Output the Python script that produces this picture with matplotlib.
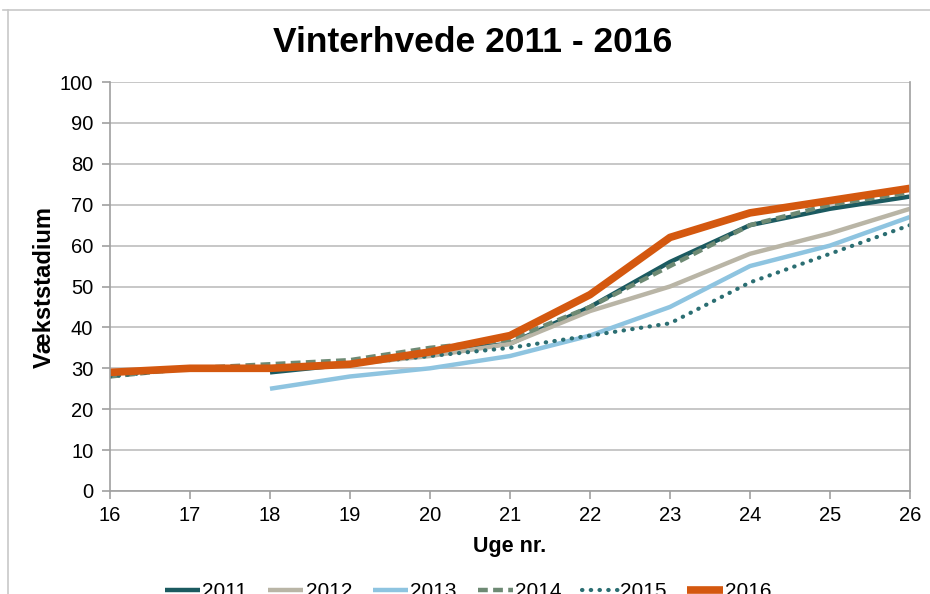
import numpy as np
import matplotlib.pyplot as plt
from matplotlib.lines import Line2D

#Data
weeks = [16, 17, 18, 19, 20, 21, 22, 23, 24, 25, 26]
late_weeks = [18, 19, 20, 21, 22, 23, 24, 25, 26]

y2011 = [29, 31, 34, 36, 45, 56, 65, 69, 72]
y2012 = [30, 31, 33, 36, 44, 50, 58, 63, 69]
y2013 = [25, 28, 30, 33, 38, 45, 55, 60, 67]
y2014 = [28, 30, 31, 32, 35, 37, 45, 55, 65, 70, 73]
y2015 = [28, 30, 30, 31, 33, 35, 38, 41, 51, 58, 65]
y2016 = [29, 30, 30, 31, 34, 38, 48, 62, 68, 71, 74]

labels = ["2011", "2012", "2013", "2014", "2015", "2016"]

plt.rcParams['font.family'] = ['Liberation Sans', 'DejaVu Sans']

fig = plt.figure(figsize=(9.3, 5.94), dpi=100)
ax = fig.add_axes([110/930, 1 - 491/594, 800/930, (491 - 82)/594])

#Outer frame (only top and left visible in the reference)
fig.add_artist(Line2D([3/930, 1], [1 - 10/594, 1 - 10/594], color="#c8c8c8", lw=1.2))
fig.add_artist(Line2D([8/930, 8/930], [0, 1 - 10/594], color="#c8c8c8", lw=1.2))

c2011 = "#1b5a60"
c2012 = "#b9b5a6"
c2013 = "#8ec4e0"
c2014 = "#6e8a74"
c2015 = "#2b6e72"
c2016 = "#d4580f"

ax.plot(late_weeks, y2011, color=c2011, lw=3.2, label=labels[0], solid_capstyle="butt")
ax.plot(late_weeks, y2012, color=c2012, lw=3.2, label=labels[1], solid_capstyle="butt")
ax.plot(late_weeks, y2013, color=c2013, lw=3.2, label=labels[2], solid_capstyle="butt")
ax.plot(weeks, y2014, color=c2014, lw=3.2, ls=(0, (2.2, 1.2)), label=labels[3])
ax.plot(weeks, y2015, color=c2015, lw=3.0, ls=(0, (0.1, 2.0)), dash_capstyle="round", label=labels[4])
ax.plot(weeks, y2016, color=c2016, lw=5.5, label=labels[5], solid_capstyle="butt")

ax.set_xlim(16, 26)
ax.set_ylim(0, 100)
ax.set_xticks(np.arange(16, 27, 1))
ax.set_yticks(np.arange(0, 101, 10))
ax.yaxis.grid(True, color="#bdbdbd", lw=1.2)
ax.set_axisbelow(True)

for s in ["left", "bottom", "right"]:
    ax.spines[s].set_color("#a0a0a0")
    ax.spines[s].set_linewidth(1.2)
ax.spines["top"].set_visible(False)
ax.tick_params(axis="both", colors="#a0a0a0", labelcolor="black", labelsize=14.5,
               length=6, width=1.2, direction="out")
ax.tick_params(axis="x", pad=5)
ax.tick_params(axis="y", pad=6)

fig.suptitle("Vinterhvede 2011 - 2016", x=473/930, y=1 - 42/594, va="center",
             fontsize=25.5, fontweight="bold")
ax.set_ylabel("Vækststadium", fontsize=17, fontweight="bold", labelpad=3)
ax.set_xlabel("Uge nr.", fontsize=15.5, fontweight="bold", labelpad=8)

fig.legend(loc="center", bbox_to_anchor=(468/930, 0.004), ncol=6, frameon=False,
           fontsize=15, handlelength=1.7, handletextpad=0.1, columnspacing=1.0)

fig.savefig("out.png", dpi=100)
